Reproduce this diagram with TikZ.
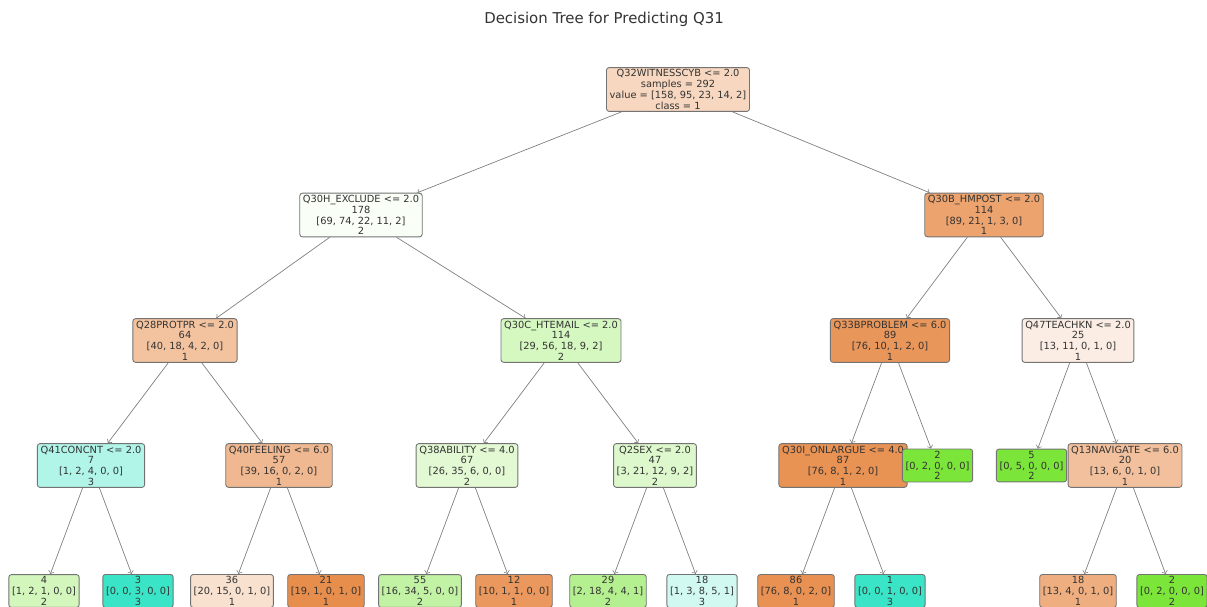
\documentclass[tikz,border=0pt]{standalone}
\usepackage{fontspec}
\setmainfont{DejaVu Sans}
\usepackage{tikz}
\newcommand{\nodeFont}[0]{\fontsize{5.6}{6.1}\selectfont}
\newcommand{\titleFont}[0]{\fontsize{8.5}{10}\selectfont}
\newcommand{\ruleLe}[2]{#1 <= #2}
\definecolor{fillRoot}{RGB}{247,215,192}
\definecolor{fillQThirtyH}{RGB}{249,254,246}
\definecolor{fillQThirtyB}{RGB}{236,163,110}
\definecolor{fillQTwentyEight}{RGB}{243,195,160}
\definecolor{fillQThirtyC}{RGB}{213,247,192}
\definecolor{fillQThirtyThree}{RGB}{233,150,90}
\definecolor{fillQFortySeven}{RGB}{251,237,227}
\definecolor{fillQFortyOne}{RGB}{176,245,232}
\definecolor{fillQForty}{RGB}{240,184,144}
\definecolor{fillQThirtyEight}{RGB}{226,249,212}
\definecolor{fillQTwo}{RGB}{221,248,204}
\definecolor{fillQThirtyI}{RGB}{232,146,84}
\definecolor{fillQThirteen}{RGB}{242,192,156}
\definecolor{pureOne}{RGB}{229,129,57}
\definecolor{pureTwo}{RGB}{123,229,57}
\definecolor{pureThree}{RGB}{57,229,198}

\begin{document}
\begin{tikzpicture}[x=0.02cm, y=-0.02cm]
  \tikzset{every node/.style={font=\nodeFont, text=black!80},
    treenode/.style={draw=black!55, rounded corners=1.5pt, line width=0.5pt, align=center, inner xsep=1.8pt, inner ysep=1.2pt},
    treeedge/.style={->, draw=black!50, line width=0.4pt}}
  \useasboundingbox (0,0) rectangle (1207,607);
  \clip (0,0) rectangle (1207,607);
  \node[font=\titleFont] (title) at (604,19) {Decision Tree for Predicting Q31};
  % splits
  \node[treenode, fill=fillRoot] (Q32-0-1) at (678,89.5) {\ruleLe{Q32WITNESSCYB}{2.0}\\samples = 292\\value = [158, 95, 23, 14, 2]\\class = 1};
  \node[treenode, fill=fillQThirtyH] (Q30H-1-1) at (361,215) {\ruleLe{Q30H\_EXCLUDE}{2.0}\\178\\{[69, 74, 22, 11, 2]}\\2};
  \node[treenode, fill=fillQThirtyB] (Q30B-1-2) at (984,215) {\ruleLe{Q30B\_HMPOST}{2.0}\\114\\{[89, 21, 1, 3, 0]}\\1};
  \node[treenode, fill=fillQTwentyEight] (Q28-2-1) at (185,340.5) {\ruleLe{Q28PROTPR}{2.0}\\64\\{[40, 18, 4, 2, 0]}\\1};
  \node[treenode, fill=fillQThirtyC] (Q30C-2-2) at (561,340.5) {\ruleLe{Q30C\_HTEMAIL}{2.0}\\114\\{[29, 56, 18, 9, 2]}\\2};
  \node[treenode, fill=fillQThirtyThree] (Q33B-2-3) at (890,340.5) {\ruleLe{Q33BPROBLEM}{6.0}\\89\\{[76, 10, 1, 2, 0]}\\1};
  \node[treenode, fill=fillQFortySeven] (Q47-2-4) at (1078,340.5) {\ruleLe{Q47TEACHKN}{2.0}\\25\\{[13, 11, 0, 1, 0]}\\1};
  \node[treenode, fill=fillQFortyOne] (Q41-3-1) at (91,465.5) {\ruleLe{Q41CONCNT}{2.0}\\7\\{[1, 2, 4, 0, 0]}\\3};
  \node[treenode, fill=fillQForty] (Q40-3-2) at (279,465.5) {\ruleLe{Q40FEELING}{6.0}\\57\\{[39, 16, 0, 2, 0]}\\1};
  \node[treenode, fill=fillQThirtyEight] (Q38-3-3) at (467,465.5) {\ruleLe{Q38ABILITY}{4.0}\\67\\{[26, 35, 6, 0, 0]}\\2};
  \node[treenode, fill=fillQTwo] (Q2-3-4) at (655,465.5) {\ruleLe{Q2SEX}{2.0}\\47\\{[3, 21, 12, 9, 2]}\\2};
  \node[treenode, fill=fillQThirtyI] (Q30I-3-5) at (843,465.5) {\ruleLe{Q30I\_ONLARGUE}{4.0}\\87\\{[76, 8, 1, 2, 0]}\\1};
  \node[treenode, fill=pureTwo] (L-3-6) at (937.5,465.5) {2\\{[0, 2, 0, 0, 0]}\\2};
  \node[treenode, fill=pureTwo] (L-3-7) at (1031.5,465.5) {5\\{[0, 5, 0, 0, 0]}\\2};
  \node[treenode, fill=fillQThirteen] (Q13-3-8) at (1125,465.5) {\ruleLe{Q13NAVIGATE}{6.0}\\20\\{[13, 6, 0, 1, 0]}\\1};
  % leaves
  \node[treenode, fill={rgb,255:red,211;green,246;blue,189}] (L-4-1) at (44,591) {4\\{[1, 2, 1, 0, 0]}\\2};
  \node[treenode, fill=pureThree] (L-4-2) at (138,591) {3\\{[0, 0, 3, 0, 0]}\\3};
  \node[treenode, fill={rgb,255:red,249;green,225;blue,208}] (L-4-3) at (232,591) {36\\{[20, 15, 0, 1, 0]}\\1};
  \node[treenode, fill={rgb,255:red,232;green,142;blue,77}] (L-4-4) at (326,591) {21\\{[19, 1, 0, 1, 0]}\\1};
  \node[treenode, fill={rgb,255:red,194;green,243;blue,164}] (L-4-5) at (420,591) {55\\{[16, 34, 5, 0, 0]}\\2};
  \node[treenode, fill={rgb,255:red,234;green,152;blue,93}] (L-4-6) at (514,591) {12\\{[10, 1, 1, 0, 0]}\\1};
  \node[treenode, fill={rgb,255:red,181;green,240;blue,144}] (L-4-7) at (608,591) {29\\{[2, 18, 4, 4, 1]}\\2};
  \node[treenode, fill={rgb,255:red,209;green,249;blue,242}] (L-4-8) at (702,591) {18\\{[1, 3, 8, 5, 1]}\\3};
  \node[treenode, fill={rgb,255:red,232;green,145;blue,82}] (L-4-9) at (796,591) {86\\{[76, 8, 0, 2, 0]}\\1};
  \node[treenode, fill=pureThree] (L-4-10) at (890,591) {1\\{[0, 0, 1, 0, 0]}\\3};
  \node[treenode, fill={rgb,255:red,238;green,174;blue,128}] (L-4-11) at (1078,591) {18\\{[13, 4, 0, 1, 0]}\\1};
  \node[treenode, fill=pureTwo] (L-4-12) at (1172,591) {2\\{[0, 2, 0, 0, 0]}\\2};
  % edges
  \draw[treeedge] (Q32-0-1) -- (Q30H-1-1);
  \draw[treeedge] (Q32-0-1) -- (Q30B-1-2);
  \draw[treeedge] (Q30H-1-1) -- (Q28-2-1);
  \draw[treeedge] (Q30H-1-1) -- (Q30C-2-2);
  \draw[treeedge] (Q30B-1-2) -- (Q33B-2-3);
  \draw[treeedge] (Q30B-1-2) -- (Q47-2-4);
  \draw[treeedge] (Q28-2-1) -- (Q41-3-1);
  \draw[treeedge] (Q28-2-1) -- (Q40-3-2);
  \draw[treeedge] (Q30C-2-2) -- (Q38-3-3);
  \draw[treeedge] (Q30C-2-2) -- (Q2-3-4);
  \draw[treeedge] (Q33B-2-3) -- (Q30I-3-5);
  \draw[treeedge] (Q33B-2-3) -- (L-3-6);
  \draw[treeedge] (Q47-2-4) -- (L-3-7);
  \draw[treeedge] (Q47-2-4) -- (Q13-3-8);
  \draw[treeedge] (Q41-3-1) -- (L-4-1);
  \draw[treeedge] (Q41-3-1) -- (L-4-2);
  \draw[treeedge] (Q40-3-2) -- (L-4-3);
  \draw[treeedge] (Q40-3-2) -- (L-4-4);
  \draw[treeedge] (Q38-3-3) -- (L-4-5);
  \draw[treeedge] (Q38-3-3) -- (L-4-6);
  \draw[treeedge] (Q2-3-4) -- (L-4-7);
  \draw[treeedge] (Q2-3-4) -- (L-4-8);
  \draw[treeedge] (Q30I-3-5) -- (L-4-9);
  \draw[treeedge] (Q30I-3-5) -- (L-4-10);
  \draw[treeedge] (Q13-3-8) -- (L-4-11);
  \draw[treeedge] (Q13-3-8) -- (L-4-12);
\end{tikzpicture}
\end{document}
